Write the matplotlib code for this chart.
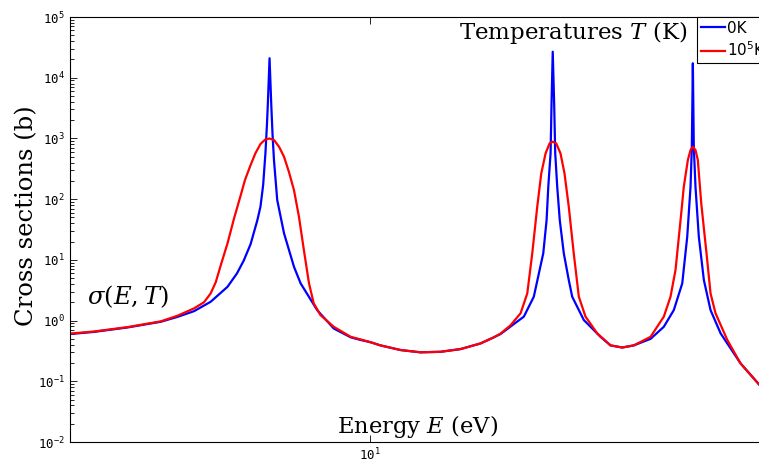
import matplotlib
matplotlib.use("Agg")
import matplotlib.pyplot as plt
from matplotlib.ticker import LogLocator, NullFormatter, NullLocator

# Energies (eV) and cross sections (b)
E_0K = [3.0, 3.30, 3.78, 4.32, 4.62, 4.94, 5.28, 5.65, 5.87, 6.03,
        6.20, 6.37, 6.45, 6.52, 6.58, 6.62, 6.645, 6.69, 6.735, 6.77,
        6.81, 6.90, 7.09, 7.38, 7.58, 8.10, 8.66, 9.27, 9.64, 10.04,
        10.45, 11.33, 12.27, 13.30, 14.41, 15.62, 16.48, 16.93, 17.16, 17.63,
        18.59, 19.35, 19.75, 20.10, 20.37, 20.51, 20.70, 20.78, 20.88, 21.00,
        21.09, 21.26, 21.48, 21.83, 22.27, 22.58, 23.66, 25.30, 26.34, 27.61,
        28.92, 30.94, 32.63, 33.97, 35.14, 35.85, 36.33, 36.52, 36.67, 36.81,
        37.06, 37.56, 38.33, 39.37, 41.00, 44.42, 47.93, 50.0]
sig_0K = [0.60, 0.65, 0.77, 0.955, 1.15, 1.43, 2.04, 3.6, 6.0, 9.7,
          18.2, 45, 75, 170, 569, 1660, 3785, 20900, 3785, 1200,
          441, 96.6, 27.5, 7.7, 4.1, 1.49, 0.74, 0.53, 0.48, 0.44,
          0.39, 0.327, 0.30, 0.306, 0.339, 0.42, 0.53, 0.60, 0.66, 0.80,
          1.16, 2.47, 6.0, 12.8, 45, 160, 569, 3785, 26800, 3785,
          569, 160, 45, 12.8, 4.65, 2.47, 1.02, 0.54, 0.39, 0.36,
          0.39, 0.50, 0.79, 1.49, 4.1, 24, 160, 730, 17300, 730,
          160, 24, 4.65, 1.49, 0.615, 0.197, 0.087, 0.072]

E_hot = [3.0, 3.30, 3.78, 4.32, 4.62, 4.94, 5.14, 5.28, 5.39, 5.50,
         5.65, 5.80, 5.96, 6.06, 6.20, 6.32, 6.45, 6.58, 6.69, 6.81,
         6.95, 7.09, 7.23, 7.38, 7.53, 7.68, 7.84, 7.99, 8.21, 8.66,
         9.27, 9.64, 10.04, 10.45, 11.33, 12.27, 13.30, 14.41, 15.62, 16.48,
         16.93, 17.63, 18.35, 18.85, 19.23, 19.62, 19.94, 20.29, 20.62, 20.88,
         21.17, 21.54, 21.89, 22.27, 22.72, 23.19, 23.82, 24.97, 26.34, 27.61,
         28.92, 30.94, 32.63, 33.52, 34.20, 34.90, 35.36, 35.94, 36.33, 36.67,
         37.06, 37.41, 37.93, 38.74, 39.37, 40.17, 42.11, 44.42, 47.93, 50.0]
sig_hot = [0.61, 0.66, 0.78, 0.97, 1.20, 1.59, 2.0, 2.8, 4.3, 8.2,
           18.7, 48, 117, 206, 365, 569, 809, 966, 996, 942,
           730, 500, 283, 141, 51, 14.5, 4.1, 1.92, 1.23, 0.79,
           0.54, 0.49, 0.44, 0.39, 0.327, 0.30, 0.306, 0.339, 0.42, 0.53,
           0.61, 0.84, 1.32, 2.81, 12.8, 75, 266, 569, 830, 883,
           830, 569, 266, 75, 12.8, 2.47, 1.16, 0.615, 0.39, 0.36,
           0.39, 0.54, 1.16, 2.47, 6.8, 45, 160, 441, 644, 730,
           644, 441, 85, 12.8, 2.81, 1.32, 0.48, 0.197, 0.087, 0.072]

series_labels = ["0K", r"$\mathdefault{10^5}$K"]

plt.rcParams["mathtext.fontset"] = "dejavuserif"

W, H = 759, 466
fig = plt.figure(figsize=(W / 100, H / 100), dpi=100)
# axes run past the right edge of the figure, as in the cropped original
ax = fig.add_axes([70 / W, 24 / H, 700 / W, 425 / H])

ax.plot(E_0K, sig_0K, color="#0000ff", lw=1.6, label=series_labels[0])
ax.plot(E_hot, sig_hot, color="#ff0000", lw=1.6, label=series_labels[1])

ax.set_xscale("log")
ax.set_yscale("log")
ax.set_xlim(3, 50)
ax.set_ylim(1e-2, 1e5)

ax.yaxis.set_major_locator(LogLocator(base=10, numticks=20))
ax.yaxis.set_minor_locator(LogLocator(base=10, subs=range(2, 10), numticks=20))
ax.yaxis.set_minor_formatter(NullFormatter())
ax.xaxis.set_minor_locator(NullLocator())

ax.tick_params(which="both", direction="in", top=True, right=True,
               labelsize=9, labelfontfamily="DejaVu Sans Mono", width=0.6)
ax.tick_params(which="major", length=5)
ax.tick_params(which="minor", length=3)
for s in ax.spines.values():
    s.set_linewidth(0.8)

serif = "DejaVu Serif"
fig.text(27 / W, 1 - 216 / H, "Cross sections (b)", rotation=90,
         ha="center", va="center", fontsize=17.5, family=serif)
fig.text(418 / W, 1 - 426 / H, "Energy $E$ (eV)", ha="center", va="center",
         fontsize=16.3, family=serif)
fig.text(573 / W, 1 - 33 / H, "Temperatures $T$ (K)", ha="center", va="center",
         fontsize=16.5, family=serif)
fig.text(128 / W, 1 - 297 / H, r"$\sigma(E,T)$", ha="center", va="center",
         fontsize=17.5)

leg = ax.legend(loc="upper left", bbox_to_anchor=(697 / W, 1 - 17 / H),
                bbox_transform=fig.transFigure, borderaxespad=0,
                fontsize=11, handlelength=1.6, handletextpad=0.1,
                borderpad=0.25, labelspacing=0.3, fancybox=False,
                framealpha=1, edgecolor="black")
leg.get_frame().set_linewidth(0.8)

fig.savefig("out.png", dpi=100)
